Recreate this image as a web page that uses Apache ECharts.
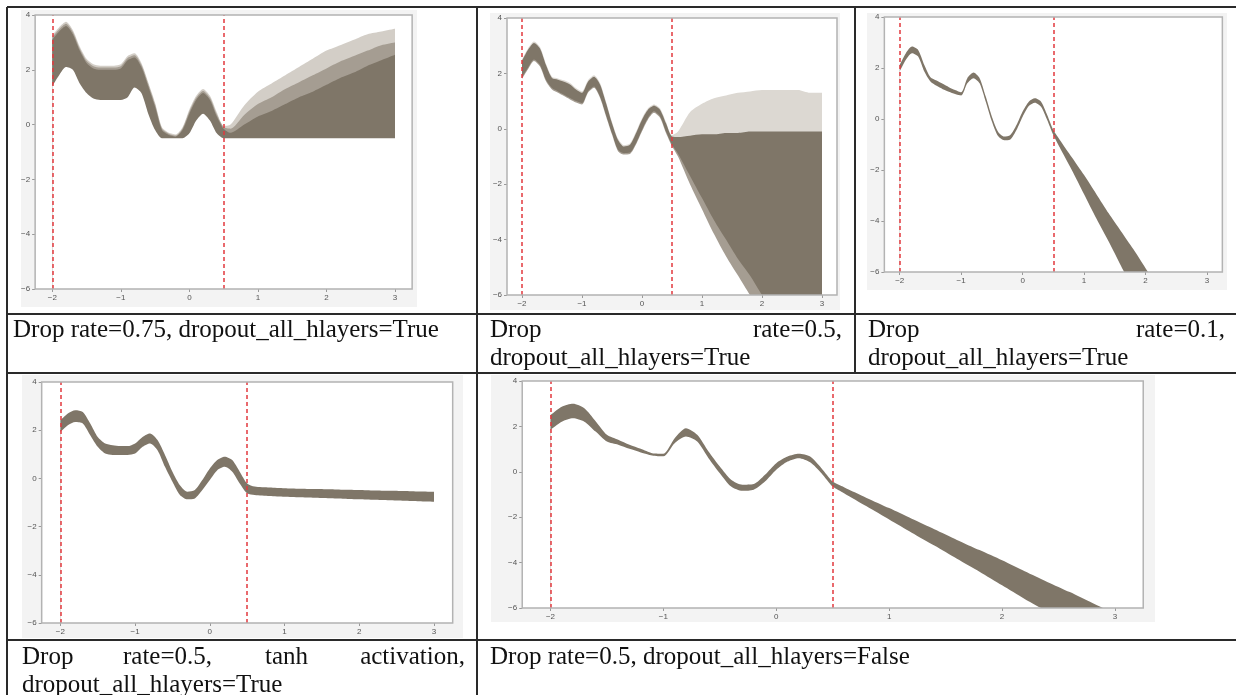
<!DOCTYPE html>
<html>
<head>
<meta charset="utf-8">
<style>
html,body{margin:0;padding:0;background:#fff;}
#chart{width:1236px;height:695px;}
</style>
<script src="https://cdn.jsdelivr.net/npm/echarts@6/dist/echarts.min.js"></script>
</head>
<body>
<div id="chart"></div>
<script>
// shared x samples, ticks and the two cut lines
var xs = [-2.0,-1.9,-1.8,-1.7,-1.6,-1.5,-1.4,-1.3,-1.2,-1.1,-1.0,-0.9,-0.8,-0.7,-0.6,-0.5,-0.4,-0.3,-0.2,-0.1,0.0,0.1,0.2,0.3,0.4,0.5,0.6,0.8,1.0,1.2,1.4,1.6,1.8,2.0,2.2,2.4,2.6,2.8,3.0];
var xTicks = [-2, -1, 0, 1, 2, 3];
var yTicks = [-6, -4, -2, 0, 2, 4];
var cutLines = [-2, 0.5];

// drop rate 0.75, all hidden layers
var p1Lo = [1.4,1.8,2.1,2.0,1.5,1.15,0.95,0.9,0.9,0.9,0.9,1.0,1.35,1.15,0.4,-0.2,-0.5,-0.5,-0.5,-0.5,-0.32,0.15,0.4,0.15,-0.32,-0.5,-0.5,-0.5,-0.5,-0.5,-0.5,-0.5,-0.5,-0.5,-0.5,-0.5,-0.5,-0.5,-0.5];
var p1Hi = [3.1,3.4,3.6,3.3,2.7,2.25,2.05,2.0,2.0,2.0,2.05,2.35,2.45,2.1,1.4,0.65,-0.2,-0.38,-0.44,-0.2,0.4,0.9,1.15,0.9,0.3,-0.15,-0.3,0.0,0.3,0.5,0.75,1.0,1.2,1.45,1.7,1.9,2.15,2.35,2.55];
var p1MidHi = [3.18,3.48,3.68,3.38,2.78,2.33,2.13,2.08,2.08,2.08,2.13,2.43,2.53,2.18,1.48,0.73,-0.14,-0.33,-0.4,-0.14,0.48,0.98,1.23,0.98,0.38,-0.09,-0.15,0.35,0.75,1.0,1.3,1.55,1.8,2.05,2.3,2.5,2.7,2.9,3.0];
var p1FzHi = [3.25,3.55,3.75,3.45,2.85,2.4,2.2,2.15,2.15,2.15,2.2,2.5,2.6,2.25,1.55,0.8,-0.1,-0.3,-0.36,-0.1,0.55,1.05,1.3,1.05,0.45,-0.05,0.0,0.7,1.2,1.5,1.8,2.1,2.4,2.7,2.9,3.1,3.3,3.4,3.5];

// drop rate 0.5, all hidden layers
var p2Lo = [1.85,2.2,2.5,2.3,1.77,1.47,1.35,1.23,1.11,1.0,0.93,1.35,1.53,1.17,0.5,-0.16,-0.76,-0.88,-0.86,-0.52,-0.04,0.39,0.63,0.45,-0.1,-0.58,-0.9,-1.7,-2.5,-3.3,-4.0,-4.7,-5.3,-6.0,-6.6,-7.2,-7.8,-8.3,-8.8];
var p2Hi = [2.45,2.85,3.1,2.9,2.3,1.83,1.77,1.7,1.6,1.42,1.3,1.7,1.88,1.6,0.93,0.2,-0.4,-0.64,-0.58,-0.16,0.33,0.69,0.83,0.69,0.2,-0.28,-0.3,-0.25,-0.2,-0.2,-0.15,-0.15,-0.1,-0.1,-0.1,-0.1,-0.1,-0.1,-0.1];
var p2FzLo = [1.8,2.15,2.45,2.25,1.72,1.42,1.3,1.18,1.06,0.95,0.88,1.3,1.48,1.12,0.45,-0.21,-0.81,-0.93,-0.91,-0.57,-0.09,0.34,0.58,0.4,-0.15,-0.63,-1.0,-2.0,-2.9,-3.8,-4.6,-5.3,-6.0,-6.6,-7.2,-7.8,-8.3,-8.8,-9.3];
var p2FzHi = [2.5,2.9,3.15,2.95,2.35,1.88,1.82,1.75,1.65,1.47,1.35,1.75,1.93,1.65,0.98,0.25,-0.35,-0.59,-0.53,-0.11,0.38,0.74,0.88,0.74,0.25,-0.23,-0.1,0.6,0.9,1.1,1.2,1.3,1.35,1.4,1.4,1.4,1.4,1.3,1.3];

// drop rate 0.1, all hidden layers
var p3Lo = [1.86,2.32,2.58,2.45,1.86,1.47,1.3,1.17,1.07,0.98,0.92,1.4,1.6,1.4,0.68,-0.1,-0.67,-0.83,-0.8,-0.43,0.09,0.51,0.64,0.48,-0.04,-0.63,-1.1,-2.0,-2.95,-3.9,-4.8,-5.75,-6.7,-7.6,-8.6,-9.5,-10.4,-11.3,-12.2];
var p3Hi = [2.12,2.58,2.84,2.71,2.12,1.64,1.51,1.38,1.25,1.14,1.05,1.6,1.82,1.6,0.88,0.09,-0.5,-0.69,-0.63,-0.24,0.29,0.68,0.81,0.68,0.16,-0.43,-0.8,-1.5,-2.2,-2.95,-3.7,-4.4,-5.1,-5.85,-6.6,-7.3,-8.0,-8.7,-9.4];

// drop rate 0.5, tanh activation
var p4Lo = [1.93,2.21,2.34,2.28,1.79,1.31,1.03,0.97,0.97,0.97,1.03,1.31,1.45,1.17,0.48,-0.14,-0.69,-0.87,-0.83,-0.48,-0.07,0.34,0.48,0.28,-0.21,-0.62,-0.69,-0.73,-0.76,-0.78,-0.8,-0.82,-0.84,-0.87,-0.89,-0.91,-0.93,-0.95,-0.97];
var p4Hi = [2.41,2.69,2.83,2.76,2.28,1.72,1.45,1.38,1.34,1.34,1.45,1.72,1.86,1.59,0.97,0.28,-0.28,-0.55,-0.48,-0.07,0.41,0.76,0.9,0.76,0.28,-0.21,-0.34,-0.38,-0.41,-0.43,-0.44,-0.45,-0.47,-0.48,-0.5,-0.51,-0.52,-0.54,-0.55];

// drop rate 0.5, last hidden layer only
var p5Lo = [1.85,2.21,2.36,2.21,1.77,1.33,1.19,1.01,0.85,0.72,0.68,1.26,1.55,1.33,0.6,-0.06,-0.65,-0.84,-0.79,-0.43,0.09,0.45,0.6,0.42,-0.06,-0.65,-0.94,-1.52,-2.1,-2.68,-3.25,-3.83,-4.4,-5.0,-5.6,-6.15,-6.7,-7.3,-7.9];
var p5Hi = [2.5,2.87,3.0,2.8,2.23,1.63,1.41,1.19,1.01,0.82,0.8,1.48,1.92,1.63,0.89,0.23,-0.35,-0.57,-0.54,-0.13,0.38,0.67,0.79,0.67,0.16,-0.43,-0.68,-1.15,-1.6,-2.07,-2.53,-3.0,-3.45,-3.9,-4.38,-4.85,-5.3,-5.78,-6.25];

var captions = [
    ['Drop rate=0.75, dropout_all_hlayers=True'],
    ['Drop', 'rate=0.5,', 'dropout_all_hlayers=True'],
    ['Drop', 'rate=0.1,', 'dropout_all_hlayers=True'],
    ['Drop', 'rate=0.5,', 'tanh', 'activation,', 'dropout_all_hlayers=True'],
    ['Drop rate=0.5, dropout_all_hlayers=False']
];

var bandColor = '#7f7668';
var midColor = '#a59d92';
var fuzzColor = '#d3cec7';
// each band is painted top-down: every layer fills down to y = -6, the next one covers it
var panels = [
    {layers: [[p1FzHi, fuzzColor], [p1MidHi, midColor], [p1Hi, bandColor], [p1Lo, '#fff']],
        box: [35.14, 15, 377, 274], fig: [21, 10, 396, 297]},
    {layers: [[p2FzHi, '#dcd8d2'], [p2Hi, bandColor], [p2Lo, midColor], [p2FzLo, '#fff']],
        box: [507, 18, 330, 277], fig: [490, 13, 350, 297]},
    {layers: [[p3Hi, bandColor], [p3Lo, '#fff']], box: [884.36, 17, 338, 255], fig: [867, 13, 360, 277]},
    {layers: [[p4Hi, bandColor], [p4Lo, '#fff']], box: [41.68, 382, 411, 241], fig: [22, 375, 441, 263]},
    {layers: [[p5Hi, bandColor], [p5Lo, '#fff']], box: [522.23, 381, 621, 227], fig: [491, 375, 664, 247]}
];

function pairs(a) { return xs.map(function (x, i) { return [x, a[i]]; }); }
function minus(v) { return String(v).replace('-', '\u2212'); }

var grids = [], xAxes = [], yAxes = [], series = [], graphics = [];

panels.forEach(function (p, i) {
    grids.push({left: p.box[0], top: p.box[1], width: p.box[2], height: p.box[3],
        show: true, backgroundColor: '#fff', borderWidth: 0});
    var axisCommon = {type: 'value', gridIndex: i, splitLine: {show: false},
        axisLine: {show: false, onZero: false}};
    xAxes.push(Object.assign({}, axisCommon, {min: -2.25, max: 3.25,
        axisTick: {show: true, customValues: xTicks, length: 3, lineStyle: {color: '#999'}},
        axisLabel: {customValues: xTicks, fontSize: 8, color: '#555', margin: 5, formatter: minus}}));
    yAxes.push(Object.assign({}, axisCommon, {min: -6, max: 4,
        axisTick: {show: true, customValues: yTicks, length: 3, lineStyle: {color: '#999'}},
        axisLabel: {customValues: yTicks, fontSize: 8, color: '#555', margin: 5, formatter: minus}}));
    p.layers.forEach(function (ly, k) {
        var s = {type: 'line', xAxisIndex: i, yAxisIndex: i, symbol: 'none', smooth: 0.25,
            silent: true, clip: true, data: pairs(ly[0]),
            lineStyle: {width: 0, opacity: 0},
            areaStyle: {color: ly[1], opacity: 1, origin: 'start'}};
        if (k === p.layers.length - 1) {
            s.markLine = {silent: true, symbol: ['none', 'none'], label: {show: false},
                lineStyle: {color: '#e2383e', type: [4, 3], width: 1.5},
                data: cutLines.map(function (v) { return {xAxis: v}; })};
        }
        series.push(s);
    });
    graphics.push({type: 'rect', z: -10, shape: {x: p.fig[0], y: p.fig[1], width: p.fig[2], height: p.fig[3]},
        style: {fill: '#f3f3f3'}});
    // plot frame on top of the bands
    graphics.push({type: 'rect', z: 40, shape: {x: p.box[0], y: p.box[1], width: p.box[2], height: p.box[3]},
        style: {fill: null, stroke: '#b3b3b3', lineWidth: 1.5}});
});

// table rules
var rules = [[7, 7, 1236, 7], [7, 314, 1236, 314], [7, 373, 1236, 373], [7, 640, 1236, 640],
    [7, 7, 7, 695], [477, 7, 477, 695], [855, 7, 855, 373]];
rules.forEach(function (r) {
    graphics.push({type: 'line', z: 50, shape: {x1: r[0], y1: r[1], x2: r[2], y2: r[3]},
        style: {stroke: '#2a2a2a', lineWidth: 2}});
});

// captions
var capFont = '25px "Liberation Serif", "Times New Roman", serif';
function cap(t, x, y, align) {
    graphics.push({type: 'text', z: 60, style: {text: t, x: x, y: y, font: capFont, fill: '#111',
        textAlign: align || 'left', textVerticalAlign: 'middle'}});
}
cap(captions[0][0], 13, 330);
cap(captions[1][0], 490, 330); cap(captions[1][1], 842, 330, 'right'); cap(captions[1][2], 490, 358);
cap(captions[2][0], 868, 330); cap(captions[2][1], 1225, 330, 'right'); cap(captions[2][2], 868, 358);
cap(captions[3][0], 22, 657); cap(captions[3][1], 123, 657); cap(captions[3][2], 265, 657);
cap(captions[3][3], 465, 657, 'right'); cap(captions[3][4], 22, 685);
cap(captions[4][0], 490, 657);

var chart = echarts.init(document.getElementById('chart'));
chart.setOption({
    animation: false,
    backgroundColor: '#fff',
    grid: grids,
    xAxis: xAxes,
    yAxis: yAxes,
    series: series,
    graphic: {elements: graphics}
});
</script>
</body>
</html>
